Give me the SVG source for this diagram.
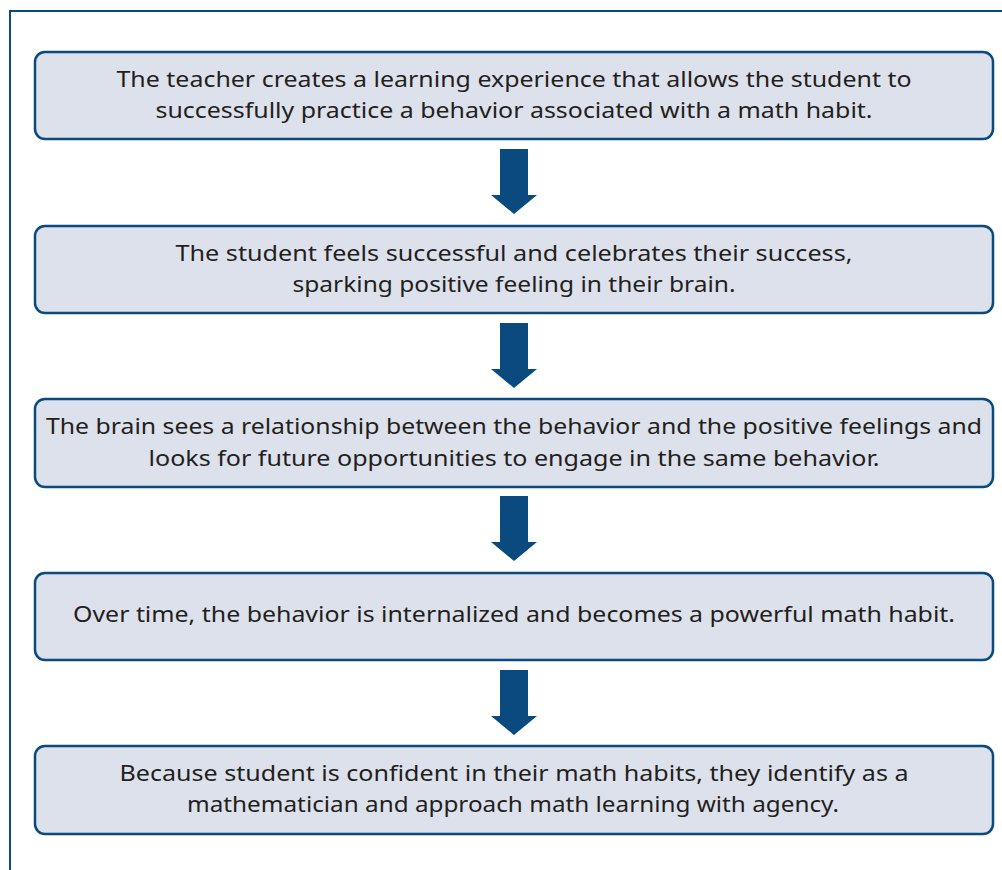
<svg xmlns="http://www.w3.org/2000/svg" width="1002" height="870" viewBox="0 0 1002 870">
  <style>
    .frame { fill: none; stroke: #0a4a7f; stroke-width: 2; }
    .box { fill: #dde1ec; stroke: #0a4a7f; stroke-width: 2.5; }
    .label { font-family: "Noto Sans", "Open Sans", "Liberation Sans", sans-serif; font-size: 22px; fill: #231f20; text-anchor: middle; }
    .arrow { fill: #0a4a7f; }
  </style>
  <defs>
    <path id="down-arrow" d="M500,0 H528 V46 H537 L514,65 L491,46 H500 Z"/>
  </defs>

  <rect width="1002" height="870" fill="#ffffff"/>
  <!-- outer frame: top and left edges -->
  <path class="frame" d="M10,870 V11 H1002"/>

  <g id="connectors">
    <use href="#down-arrow" class="arrow" y="149"/>
    <use href="#down-arrow" class="arrow" y="323"/>
    <use href="#down-arrow" class="arrow" y="496"/>
    <use href="#down-arrow" class="arrow" y="670"/>
  </g>

  <g id="step1">
    <rect class="box" x="35" y="52" width="958" height="87" rx="10"/>
    <text class="label" x="514" y="87" textLength="795" lengthAdjust="spacingAndGlyphs">The teacher creates a learning experience that allows the student to</text>
    <text class="label" x="514" y="118" textLength="717" lengthAdjust="spacingAndGlyphs">successfully practice a behavior associated with a math habit.</text>
  </g>

  <g id="step2">
    <rect class="box" x="35" y="226" width="958" height="87" rx="10"/>
    <text class="label" x="514" y="261" textLength="677" lengthAdjust="spacingAndGlyphs">The student feels successful and celebrates their success,</text>
    <text class="label" x="514" y="292" textLength="443" lengthAdjust="spacingAndGlyphs">sparking positive feeling in their brain.</text>
  </g>

  <g id="step3">
    <rect class="box" x="35" y="399" width="958" height="88" rx="10"/>
    <text class="label" x="514" y="434" textLength="936" lengthAdjust="spacingAndGlyphs">The brain sees a relationship between the behavior and the positive feelings and</text>
    <text class="label" x="514" y="466" textLength="731" lengthAdjust="spacingAndGlyphs">looks for future opportunities to engage in the same behavior.</text>
  </g>

  <g id="step4">
    <rect class="box" x="35" y="573" width="958" height="87" rx="10"/>
    <text class="label" x="514" y="622" textLength="882" lengthAdjust="spacingAndGlyphs">Over time, the behavior is internalized and becomes a powerful math habit.</text>
  </g>

  <g id="step5">
    <rect class="box" x="35" y="746" width="958" height="88" rx="10"/>
    <text class="label" x="514" y="781" textLength="789" lengthAdjust="spacingAndGlyphs">Because student is confident in their math habits, they identify as a</text>
    <text class="label" x="513" y="812" textLength="652" lengthAdjust="spacingAndGlyphs">mathematician and approach math learning with agency.</text>
  </g>
</svg>
